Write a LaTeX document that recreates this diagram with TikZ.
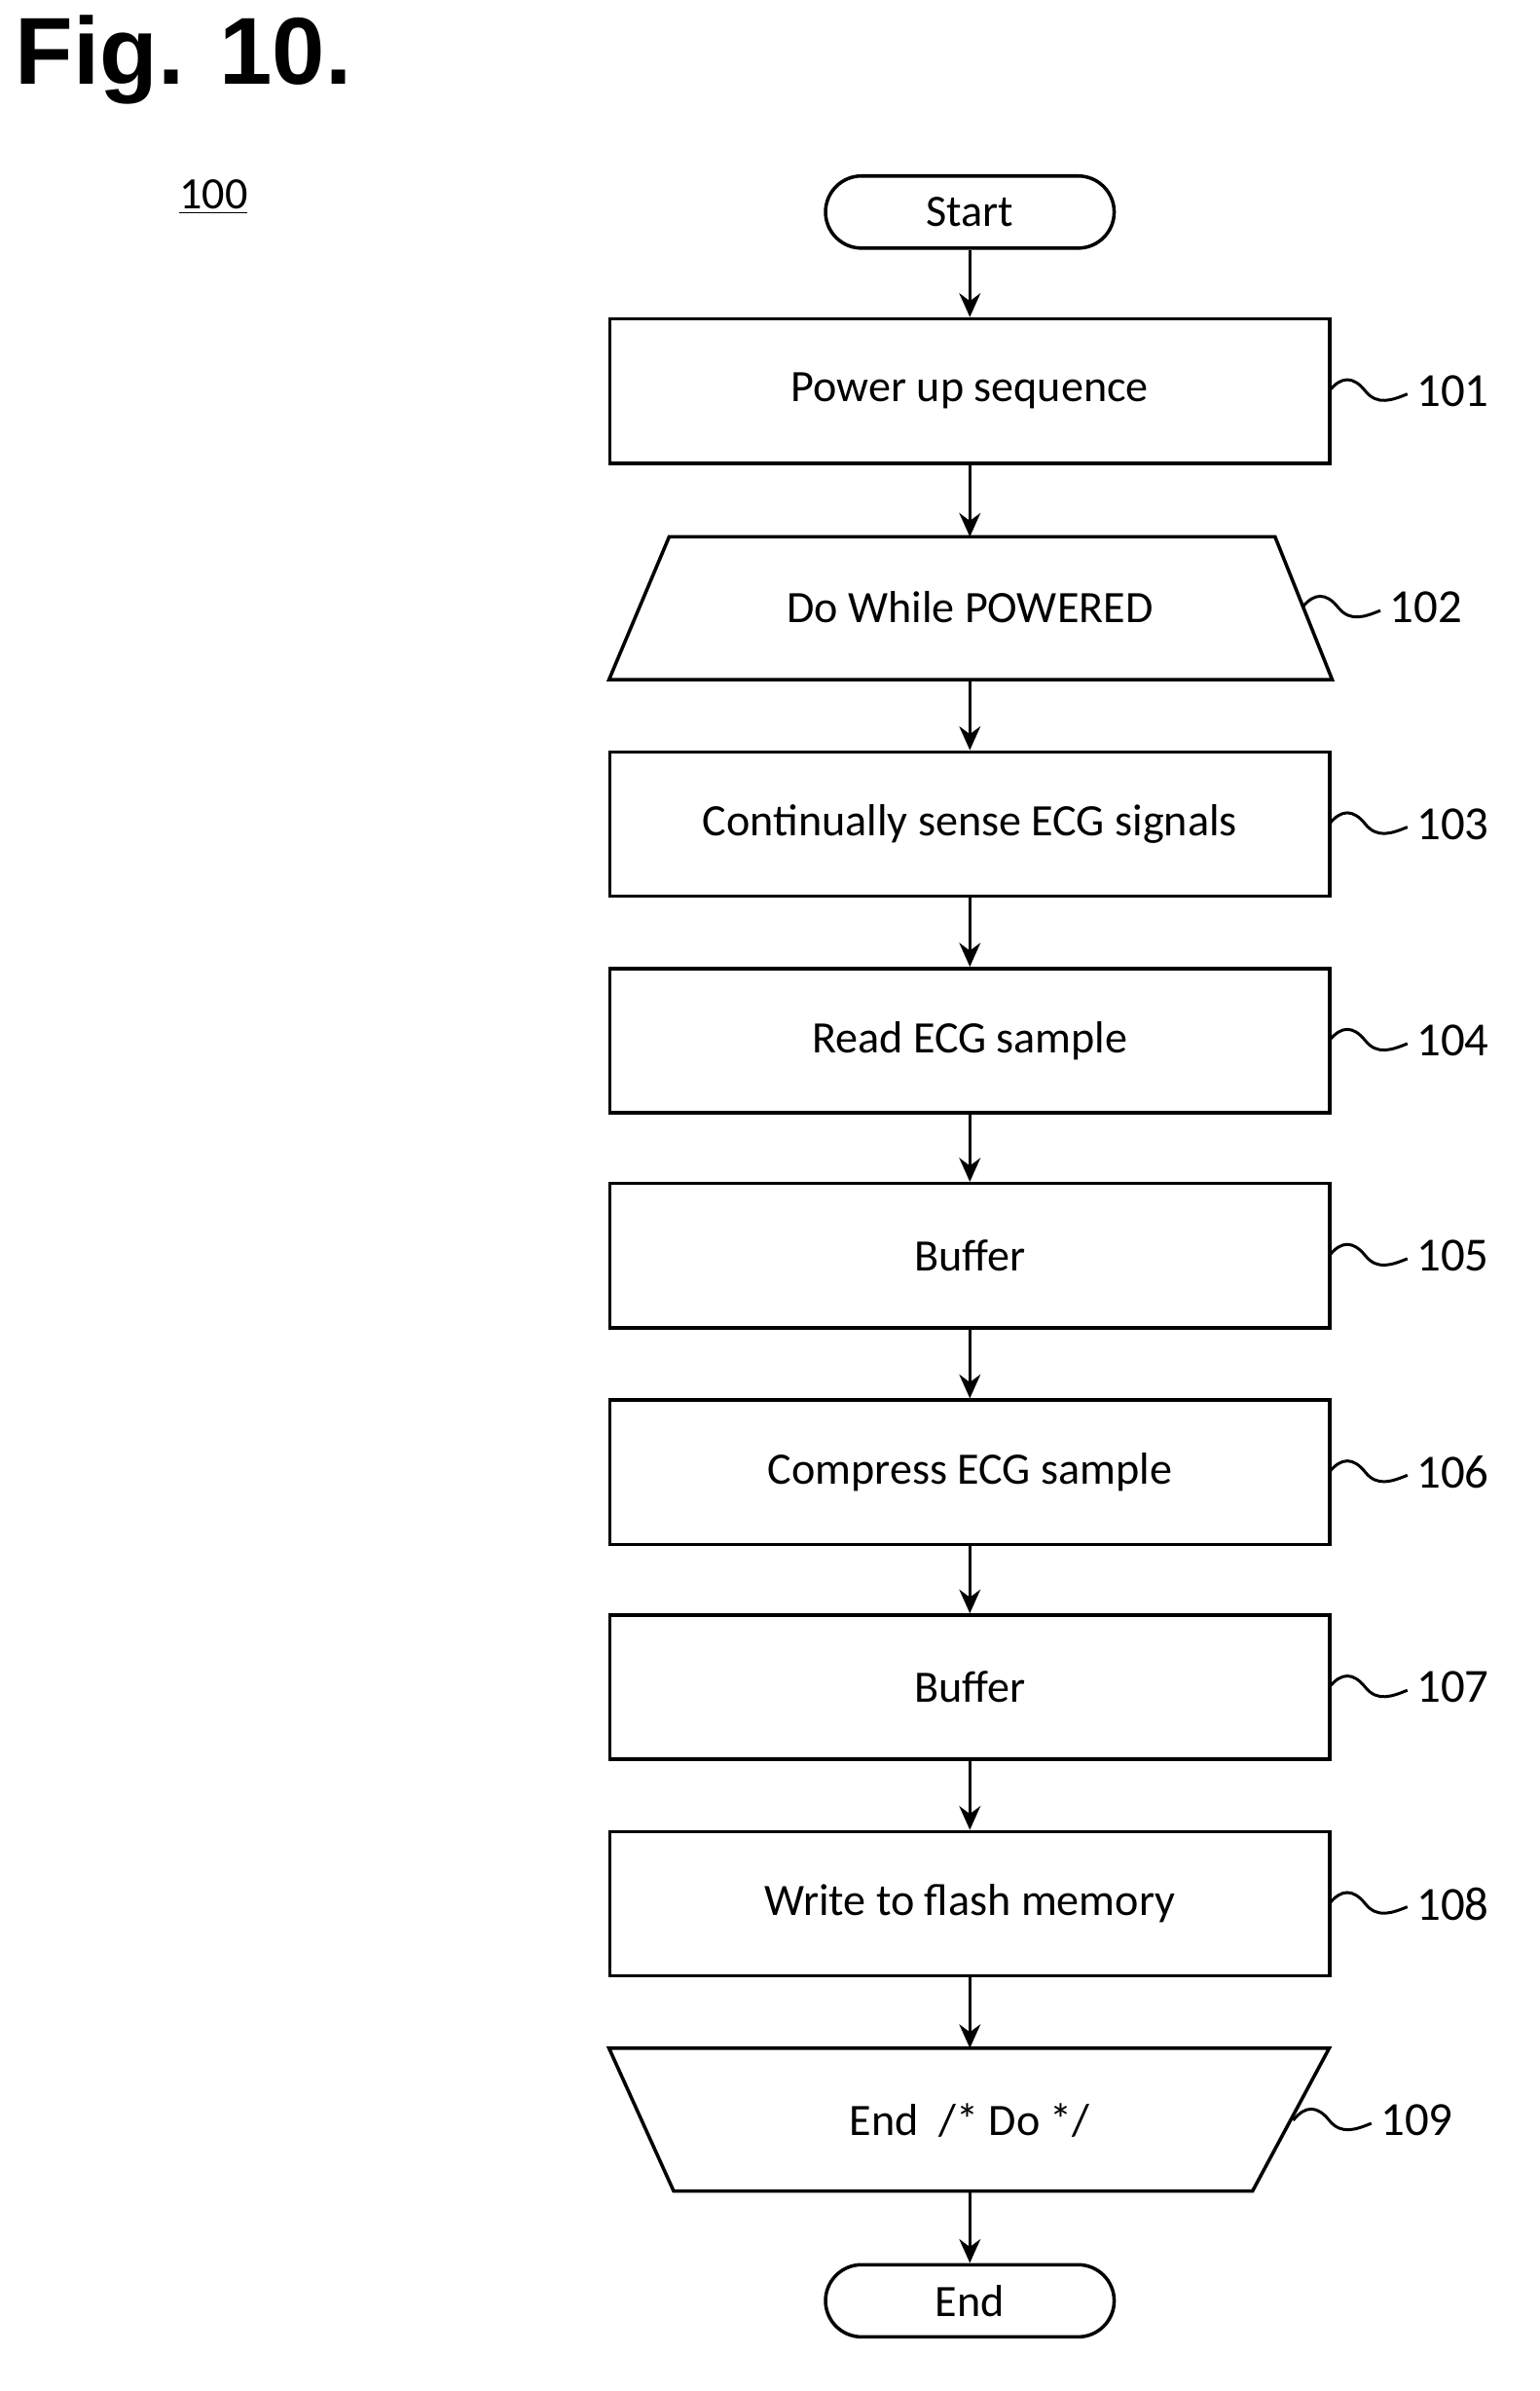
\documentclass[tikz,border=0pt]{standalone}
\usepackage{fontspec}
\usetikzlibrary{arrows.meta}
\setmainfont{Carlito}
\newfontfamily\figfont{Liberation Sans}
\begin{document}
\begin{tikzpicture}[x=0.02cm,y=-0.02cm,
  box/.style={draw,line width=1.3pt,minimum width=9.58cm,minimum height=1.92cm,font=\fontsize{17}{20}\selectfont,inner sep=0},
  term/.style={draw,line width=1.3pt,rectangle,rounded corners=0.48cm,minimum width=3.84cm,minimum height=0.96cm,font=\fontsize{17}{20}\selectfont,inner sep=0},
  lbl/.style={font=\fontsize{18}{20}\selectfont,anchor=west},
  arr/.style={line width=1.3pt,-{Stealth[length=9pt,width=8pt]}},
  sq/.style={line width=1.1pt}]
\useasboundingbox (0,0) rectangle (1024,1590);
\node[font=\figfont\bfseries\fontsize{36}{40}\selectfont,anchor=north west] (fig) at (4,4) {Fig. 10.};
\node[font=\fontsize{17}{20}\selectfont] (n100) at (142,131) {\underline{100}};
\node[term] (start) at (645,141) {Start};
\node[box] (b101) at (645,260) {Power up sequence};
\draw[line width=1.3pt] (445,357) -- (848,357) -- (886,452) -- (405,452) -- cycle;
\node[font=\fontsize{17}{20}\selectfont] (b102) at (645,404) {Do While POWERED};
\coordinate (t102) at (645,357); \coordinate (u102) at (645,452);
\node[box] (b103) at (645,548) {Continually sense ECG signals};
\node[box] (b104) at (645,692) {Read ECG sample};
\node[box] (b105) at (645,835) {Buffer};
\node[box] (b106) at (645,979) {Compress ECG sample};
\node[box] (b107) at (645,1122) {Buffer};
\node[box] (b108) at (645,1266) {Write to flash memory};
\draw[line width=1.3pt] (405,1362) -- (884,1362) -- (833,1457) -- (448,1457) -- cycle;
\node[font=\fontsize{17}{20}\selectfont] (b109) at (645,1410) {End~ /* Do */};
\coordinate (t109) at (645,1362); \coordinate (u109) at (645,1457);
\node[term] (end) at (645,1530) {End};
\draw[arr] (start) -- (b101);
\draw[arr] (b101) -- (t102);
\draw[arr] (u102) -- (b103);
\draw[arr] (b103) -- (b104);
\draw[arr] (b104) -- (b105);
\draw[arr] (b105) -- (b106);
\draw[arr] (b106) -- (b107);
\draw[arr] (b107) -- (b108);
\draw[arr] (b108) -- (t109);
\draw[arr] (u109) -- (end);
\foreach \n/\y/\x in {101/260/884,102/404/866,103/548/884,104/692/884,105/835/884,106/979/884,107/1122/884,108/1266/884,109/1410/860}{
  \draw[sq] (\x,\y) .. controls (\x+8,\y-10) and (\x+16,\y-10) .. (\x+24,\y) .. controls (\x+32,\y+10) and (\x+42,\y+6) .. (\x+52,\y+2);
  \node[lbl] (l\n) at (\x+52,\y) {\n};
}
\end{tikzpicture}
\end{document}
